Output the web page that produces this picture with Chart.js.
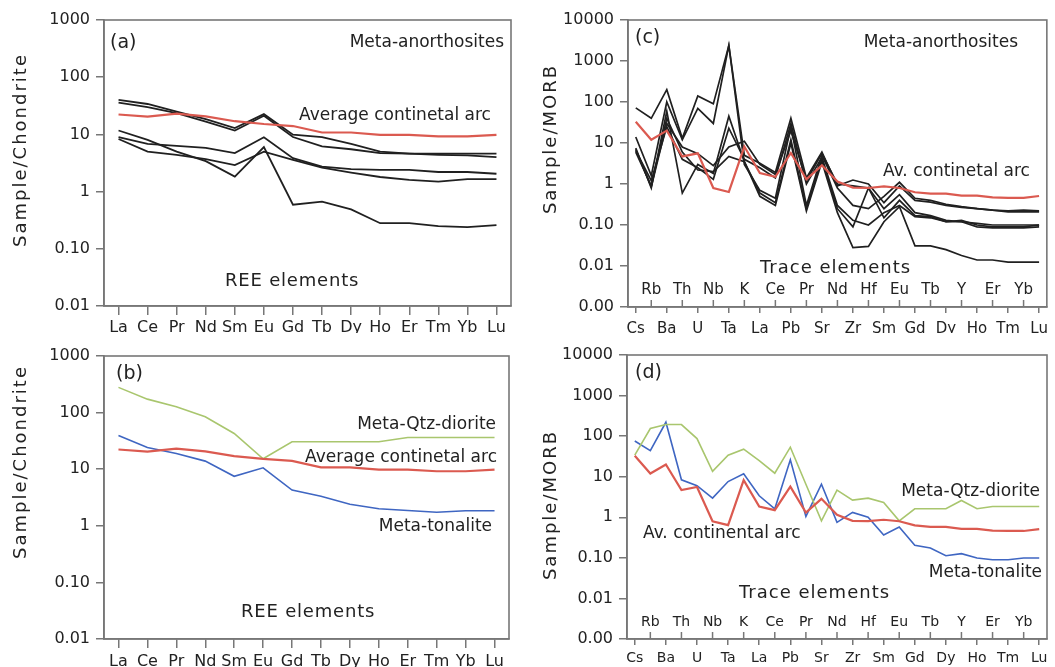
<!DOCTYPE html>
<html>
<head>
<meta charset="utf-8">
<script src="https://cdn.jsdelivr.net/npm/chart.js@4.4.1/dist/chart.umd.min.js"></script>
<style>
  body { margin: 0; background: #fff; }
  #wrap { position: relative; width: 1055px; height: 667px; overflow: hidden; }
  canvas { position: absolute; }
</style>
</head>
<body>
<div id="wrap">
  <canvas id="chartA" width="527" height="333" style="left:0;top:0"></canvas>
  <canvas id="chartB" width="527" height="334" style="left:0;top:333px"></canvas>
  <canvas id="chartC" width="528" height="333" style="left:527px;top:0"></canvas>
  <canvas id="chartD" width="528" height="334" style="left:527px;top:333px"></canvas>
</div>
<script>
// categories
const reeLabels = ['La', 'Ce', 'Pr', 'Nd', 'Sm', 'Eu', 'Gd', 'Tb', 'Dy', 'Ho', 'Er', 'Tm', 'Yb', 'Lu'];
const traceLabels = ['Cs', 'Rb', 'Ba', 'Th', 'U', 'Nb', 'Ta', 'K', 'La', 'Ce', 'Pb', 'Pr', 'Sr', 'Nd',
  'Zr', 'Hf', 'Sm', 'Eu', 'Gd', 'Tb', 'Dy', 'Y', 'Ho', 'Er', 'Tm', 'Yb', 'Lu'];

// y ticks
const reeTickValues = [0.01, 0.1, 1, 10, 100, 1000];
const reeTickLabels = ['0.01', '0.10', '1', '10', '100', '1000'];
const traceTickValues = [0.001, 0.01, 0.1, 1, 10, 100, 1000, 10000];
const traceTickLabels = ['0.00', '0.01', '0.10', '1', '10', '100', '1000', '10000'];

// REE / chondrite
const avgArcRee = [22.3, 20.5, 23, 20.6, 17, 15.2, 14, 10.8, 10.8, 9.8, 9.8, 9.2, 9.2, 9.8];
const anorthRee1 = [40, 34, 25, 18.5, 12.9, 22.6, 9.9, 9, 6.8, 5, 4.6, 4.6, 4.6, 4.6];
const anorthRee2 = [36, 30, 23.6, 16.8, 11.7, 21.2, 9, 6.2, 5.5, 4.7, 4.6, 4.4, 4.3, 4.0];
const anorthRee3 = [9.0, 6.8, 6.3, 5.8, 4.7, 8.9, 3.85, 2.74, 2.47, 2.4, 2.4, 2.2, 2.2, 2.05];
const anorthRee4 = [8.3, 5.0, 4.4, 3.7, 2.9, 5.0, 3.6, 2.63, 2.15, 1.8, 1.6, 1.5, 1.65, 1.65];
const anorthRee5 = [11.7, 8.0, 5.0, 3.4, 1.83, 6.0, 0.59, 0.67, 0.49, 0.28, 0.28, 0.25, 0.24, 0.26];
const qtzDioriteRee = [279, 173, 127, 84.5, 42.8, 15.3, 30.5, 30.5, 30.5, 30.5, 36.4, 36.4, 36.4, 36.4];
const tonaliteRee = [39.5, 24.2, 19, 13.9, 7.5, 10.6, 4.27, 3.34, 2.41, 2.0, 1.86, 1.74, 1.84, 1.84];

// trace / MORB
const avgArcTrace = [33, 12, 20, 4.7, 5.6, 0.8, 0.64, 8.2, 1.85, 1.5, 5.7, 1.3, 2.85, 1.15,
  0.82, 0.8, 0.87, 0.8, 0.63, 0.58, 0.58, 0.52, 0.52, 0.47, 0.46, 0.46, 0.51];
const anorthTrace1 = [72, 40, 200, 13, 140, 90, 2400, 5, 3.2, 1.9, 40, 1.4, 6, 0.9,
  1.25, 1.0, 0.35, 0.9, 0.4, 0.36, 0.3, 0.27, 0.25, 0.23, 0.22, 0.23, 0.22];
const anorthTrace2 = [14, 1.6, 100, 12, 70, 30, 2400, 3, 0.7, 0.45, 25, 0.3, 5, 0.8,
  0.3, 0.25, 0.5, 1.1, 0.45, 0.4, 0.32, 0.28, 0.25, 0.23, 0.21, 0.21, 0.21];
const anorthTrace3 = [7.5, 0.8, 60, 0.6, 3, 1.8, 45, 3.5, 0.6, 0.35, 12, 0.25, 4, 0.25,
  0.09, 0.8, 0.15, 0.4, 0.17, 0.16, 0.12, 0.13, 0.1, 0.09, 0.09, 0.09, 0.1];
const anorthTrace4 = [7, 0.85, 30, 8, 5.5, 2.8, 8, 11, 3, 1.7, 20, 1.2, 5.5, 1.0,
  0.9, 0.8, 0.25, 0.55, 0.2, 0.17, 0.13, 0.12, 0.11, 0.1, 0.1, 0.1, 0.1];
const anorthTrace5 = [6.5, 1.2, 25, 4, 2.5, 1.3, 23, 4, 2.5, 1.4, 30, 1.0, 4.5, 0.3,
  0.13, 0.1, 0.2, 0.3, 0.16, 0.15, 0.12, 0.12, 0.09, 0.085, 0.085, 0.085, 0.09];
const anorthTrace6 = [6, 0.9, 40, 6, 2.2, 2, 4.7, 3.5, 0.5, 0.3, 10, 0.22, 3.5, 0.2,
  0.028, 0.03, 0.12, 0.28, 0.031, 0.031, 0.025, 0.018, 0.014, 0.014, 0.0125, 0.0125, 0.0125];
const qtzDioriteTrace = [34, 154, 193, 193, 87, 13.5, 34, 47.7, 25, 12.2, 53.4, 6.5, 0.82, 4.67,
  2.65, 2.97, 2.32, 0.82, 1.62, 1.62, 1.62, 2.6, 1.62, 1.85, 1.85, 1.85, 1.85];
const tonaliteTrace = [76, 44, 220, 8.4, 6.0, 2.97, 7.6, 11.8, 3.39, 1.62, 26, 1.05, 6.56, 0.75,
  1.32, 1.01, 0.365, 0.574, 0.203, 0.175, 0.113, 0.127, 0.099, 0.09, 0.09, 0.099, 0.099];

const fontFamily = '"DejaVu Sans", Verdana, sans-serif';
const textColor = '#222';
const axisGray = '#777';
const black = '#202020';
const red = '#db5a50';
const green = '#a9c66e';
const blue = '#3f66c2';

// frame, titles, notes and inner labels
const decor = {
  id: 'decor',
  afterDraw(chart, args, o) {
    const { ctx, chartArea: a } = chart;
    ctx.save();
    ctx.strokeStyle = axisGray;
    ctx.lineWidth = 1.6;
    ctx.strokeRect(a.left, a.top, a.right - a.left, a.bottom - a.top);

    ctx.fillStyle = textColor;
    ctx.font = '18px ' + fontFamily;
    ctx.letterSpacing = '2px';
    ctx.textAlign = 'center';
    ctx.textBaseline = 'middle';
    ctx.save();
    ctx.translate(o.titleX, o.titleY);
    ctx.rotate(-Math.PI / 2);
    ctx.fillText(o.title, 0, 0);
    ctx.restore();

    o.notes.forEach(n => {
      ctx.font = (n.size || 17) + 'px ' + fontFamily;
      ctx.letterSpacing = (n.spacing || 0) + 'px';
      ctx.textAlign = n.align || 'left';
      ctx.fillText(n.t, n.x, n.y);
    });

    if (o.inner) {
      const xs = chart.scales.x;
      const labels = chart.data.labels;
      ctx.letterSpacing = '0px';
      ctx.font = o.inner.size + 'px ' + fontFamily;
      ctx.textAlign = 'center';
      ctx.lineWidth = 1.5;
      for (let i = 1; i < labels.length; i += 2) {
        const px = xs.getPixelForTick(i);
        ctx.beginPath();
        ctx.moveTo(px, a.bottom);
        ctx.lineTo(px, a.bottom - 7);
        ctx.stroke();
        ctx.fillText(labels[i], px, o.inner.y);
      }
    }
    ctx.restore();
  }
};

function line(data, color, width) {
  return { data: data, borderColor: color, borderWidth: width, pointRadius: 0, tension: 0, fill: false };
}

function yScale(values, labels, width) {
  return {
    type: 'logarithmic',
    min: values[0],
    max: values[values.length - 1],
    afterBuildTicks: s => { s.ticks = values.map(v => ({ value: v })); },
    afterFit: s => { s.width = width; },
    grid: { drawOnChartArea: false, color: axisGray, tickLength: 8, lineWidth: 1.5 },
    border: { color: axisGray, width: 1.6 },
    ticks: {
      color: textColor, padding: 6, font: { family: fontFamily, size: 16 },
      callback: v => { const i = values.indexOf(v); return i < 0 ? '' : labels[i]; }
    }
  };
}

function xScale(labels, o) {
  return {
    type: 'category',
    offset: true,
    afterFit: s => { s.height = o.height; },
    grid: {
      drawOnChartArea: false, tickLength: o.tickLength, lineWidth: 1.5,
      color: c => (o.alternate && c.index % 2) ? 'rgba(0,0,0,0)' : axisGray
    },
    border: { color: axisGray, width: 1.6 },
    ticks: {
      autoSkip: false, maxRotation: 0, color: textColor, padding: o.padding,
      font: { family: fontFamily, size: o.fontSize },
      callback: (v, i) => (o.alternate && i % 2) ? '' : labels[i]
    }
  };
}

function makeChart(id, labels, datasets, y, x, padding, decorOpts) {
  return new Chart(document.getElementById(id), {
    type: 'line',
    data: { labels: labels, datasets: datasets },
    options: {
      responsive: false,
      animation: false,
      events: [],
      layout: { padding: padding },
      plugins: { legend: { display: false }, tooltip: { enabled: false }, decor: decorOpts },
      scales: { x: x, y: y }
    },
    plugins: [decor]
  });
}

makeChart('chartA', reeLabels, [
    line(avgArcRee, red, 2.2),
    line(anorthRee1, black, 1.8),
    line(anorthRee2, black, 1.8),
    line(anorthRee3, black, 1.8),
    line(anorthRee4, black, 1.8),
    line(anorthRee5, black, 1.8)
  ],
  yScale(reeTickValues, reeTickLabels, 104),
  xScale(reeLabels, { height: 27, tickLength: 9, padding: 3, fontSize: 16 }),
  { left: 0, top: 20, right: 16, bottom: 0 },
  {
    title: 'Sample/Chondrite', titleX: 21, titleY: 150,
    notes: [
      { t: '(a)', x: 110, y: 43, size: 19 },
      { t: 'Meta-anorthosites', x: 504, y: 43, align: 'right' },
      { t: 'Average continetal arc', x: 299, y: 116 },
      { t: 'REE elements', x: 225, y: 281, size: 18, spacing: 0.8 }
    ]
  });

makeChart('chartB', reeLabels, [
    line(avgArcRee, red, 2.2),
    line(qtzDioriteRee, green, 1.6),
    line(tonaliteRee, blue, 1.6)
  ],
  yScale(reeTickValues, reeTickLabels, 104),
  xScale(reeLabels, { height: 28, tickLength: 9, padding: 4, fontSize: 16 }),
  { left: 0, top: 23, right: 18, bottom: 0 },
  {
    title: 'Sample/Chondrite', titleX: 21, titleY: 129,
    notes: [
      { t: '(b)', x: 116, y: 41, size: 19 },
      { t: 'Meta-Qtz-diorite', x: 496, y: 92, align: 'right' },
      { t: 'Average continetal arc', x: 497, y: 125, align: 'right' },
      { t: 'Meta-tonalite', x: 492, y: 194, align: 'right' },
      { t: 'REE elements', x: 241, y: 279, size: 18, spacing: 0.8 }
    ]
  });

makeChart('chartC', traceLabels, [
    line(avgArcTrace, red, 2.2),
    line(anorthTrace1, black, 1.7),
    line(anorthTrace2, black, 1.7),
    line(anorthTrace3, black, 1.7),
    line(anorthTrace4, black, 1.7),
    line(anorthTrace5, black, 1.7),
    line(anorthTrace6, black, 1.7)
  ],
  yScale(traceTickValues, traceTickLabels, 101),
  xScale(traceLabels, { height: 26, tickLength: 6, padding: 7, fontSize: 15, alternate: true }),
  { left: 0, top: 20, right: 6, bottom: 0 },
  {
    title: 'Sample/MORB', titleX: 24, titleY: 139,
    inner: { y: 290, size: 15 },
    notes: [
      { t: '(c)', x: 108, y: 38, size: 19 },
      { t: 'Meta-anorthosites', x: 491, y: 43, align: 'right' },
      { t: 'Av. continetal arc', x: 356, y: 172 },
      { t: 'Trace elements', x: 233, y: 268, size: 18, spacing: 1 }
    ]
  });

makeChart('chartD', traceLabels, [
    line(avgArcTrace, red, 2.2),
    line(qtzDioriteTrace, green, 1.6),
    line(tonaliteTrace, blue, 1.6)
  ],
  yScale(traceTickValues, traceTickLabels, 100),
  xScale(traceLabels, { height: 28, tickLength: 6, padding: 5, fontSize: 14, alternate: true }),
  { left: 0, top: 22, right: 8, bottom: 0 },
  {
    title: 'Sample/MORB', titleX: 24, titleY: 172,
    inner: { y: 289, size: 14 },
    notes: [
      { t: '(d)', x: 108, y: 40, size: 19 },
      { t: 'Meta-Qtz-diorite', x: 513, y: 159, align: 'right' },
      { t: 'Av. continental arc', x: 116, y: 201 },
      { t: 'Meta-tonalite', x: 515, y: 240, align: 'right' },
      { t: 'Trace elements', x: 212, y: 260, size: 18, spacing: 1 }
    ]
  });
</script>
</body>
</html>
